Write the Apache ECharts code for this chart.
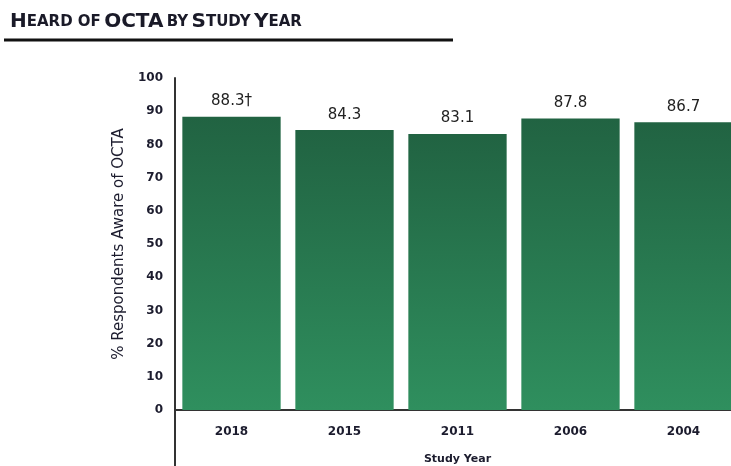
<!DOCTYPE html>
<html><head><meta charset="utf-8">
<script src="https://cdn.jsdelivr.net/npm/echarts@6/dist/echarts.min.js"></script>
<style>html,body{margin:0;padding:0;background:#fff}#w{width:731px;height:466px;overflow:hidden;position:relative}#c{width:741px;height:466px;position:absolute;left:0;top:0}</style>
</head><body><div id="w"><div id="c"></div></div>
<script>
const categories = ['2018','2015','2011','2006','2004'];
const values = [88.3, 84.3, 83.1, 87.8, 86.7];
const valueLabels = ['88.3†','84.3','83.1','87.8','86.7'];
const yTicks = [0,10,20,30,40,50,60,70,80,90,100];

const chart = echarts.init(document.getElementById('c'));
chart.setOption({
  animation: false,
  backgroundColor: '#fff',
  grid: {left: 175, top: 78, bottom: 56, right: 1, outerBoundsMode: 'none', containLabel: false},
  xAxis: {
    type: 'category', data: categories,
    name: 'Study Year', nameLocation: 'middle', nameGap: 44,
    nameTextStyle: {fontFamily: 'DejaVu Sans', fontWeight: 'bold', fontSize: 11, color: '#1c1c2e'},
    axisLine: {lineStyle: {color: '#333', width: 2}},
    axisTick: {show: false},
    axisLabel: {margin: 16, fontFamily: 'DejaVu Sans', fontWeight: 'bold', fontSize: 12, color: '#1c1c2e'}
  },
  yAxis: {
    type: 'value', min: 0, max: 100, interval: 10,
    name: '% Respondents Aware of OCTA', nameLocation: 'middle', nameGap: 36, nameRotate: 90,
    nameTextStyle: {fontFamily: 'DejaVu Sans', fontSize: 15, color: '#1c1c2e'},
    axisLine: {show: true, lineStyle: {color: '#333', width: 2}},
    axisTick: {show: false},
    splitLine: {show: false},
    axisLabel: {margin: 12, fontFamily: 'DejaVu Sans', fontWeight: 'bold', fontSize: 12, color: '#1c1c2e',
      formatter: v => yTicks.includes(v) ? String(v) : ''}
  },
  series: [{
    type: 'bar', data: values, barCategoryGap: '13%',
    itemStyle: {color: new echarts.graphic.LinearGradient(0,0,0,1,[
      {offset: 0, color: '#216342'}, {offset: 1, color: '#2f8f5e'}])},
    label: {show: true, position: 'top', distance: 8, fontFamily: 'DejaVu Sans', fontSize: 15, color: '#222',
      formatter: p => valueLabels[p.dataIndex]}
  }],
  graphic: [
    {type: 'text', left: 10, top: 12, style: {
      text: '{b|H}{s|EARD OF} {b|OCTA} {s|BY} {b|S}{s|TUDY} {b|Y}{s|EAR}',
      rich: {
        b: {fontFamily: 'DejaVu Sans', fontWeight: 'bold', fontSize: 20, fill: '#1a1a28'},
        s: {fontFamily: 'DejaVu Sans', fontWeight: 'bold', fontSize: 15, fill: '#1a1a28'}
      }}},
    {type: 'line', shape: {x1: 4, y1: 40, x2: 453, y2: 40}, style: {stroke: '#111', lineWidth: 3}},
    {type: 'line', shape: {x1: 175, y1: 410, x2: 175, y2: 466}, style: {stroke: '#333', lineWidth: 2}}
  ]
});
</script></body></html>
